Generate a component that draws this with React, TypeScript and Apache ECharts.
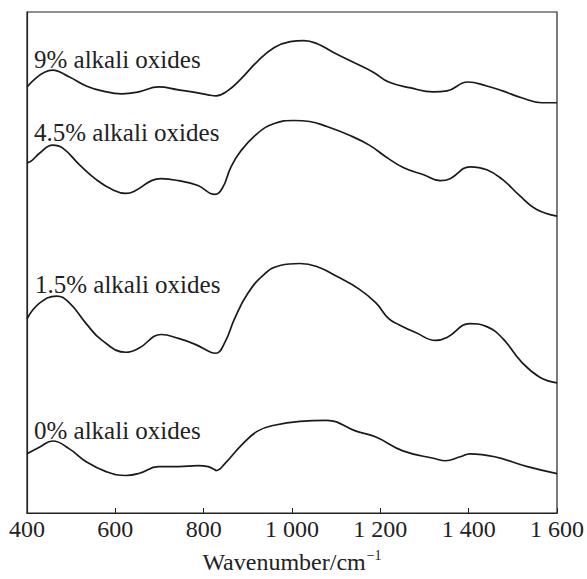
import React, { useEffect, useRef } from "react";
import * as echarts from "echarts";

// Wavenumber (cm^-1) and relative intensity (arbitrary offset units)
const wn9 = [400, 458, 496, 534, 570, 615, 653, 698, 743, 787, 810, 828, 854, 884, 922, 960, 996, 1027, 1056, 1094, 1139, 1184, 1219, 1269, 1320, 1351, 1398, 1441, 1477, 1520, 1566, 1600];
const val9 = [432, 449, 442, 433, 428, 425, 427, 432, 429, 426, 424, 423, 428, 440, 458, 472, 478, 479, 476, 467, 457, 447, 437, 431, 427, 428, 437, 433, 428, 421, 416, 416];

const wn45 = [400, 410, 429, 458, 481, 519, 557, 593, 624, 646, 682, 704, 743, 787, 825, 843, 861, 884, 922, 960, 1004, 1040, 1078, 1130, 1175, 1213, 1253, 1298, 1336, 1358, 1403, 1441, 1477, 1515, 1553, 1600];
const val45 = [355, 357, 365, 373, 370, 353, 338, 328, 324, 327, 337, 339, 337, 332, 323, 330, 350, 367, 385, 395, 398, 397, 392, 383, 373, 361, 350, 343, 337, 339, 351, 348, 338, 322, 308, 301];

const wn15 = [400, 429, 467, 496, 534, 570, 624, 653, 704, 743, 781, 816, 828, 848, 870, 899, 937, 973, 1018, 1056, 1101, 1152, 1190, 1219, 1242, 1280, 1325, 1351, 1403, 1441, 1477, 1520, 1560, 1600];
const val15 = [197, 213, 220, 213, 192, 175, 163, 167, 181, 177, 171, 163, 162, 173, 197, 222, 242, 251, 253, 250, 240, 227, 213, 197, 191, 183, 175, 178, 192, 189, 177, 153, 138, 132];

const wn0 = [400, 429, 458, 496, 534, 579, 624, 653, 698, 743, 787, 810, 825, 828, 848, 884, 922, 960, 1018, 1078, 1145, 1190, 1251, 1325, 1347, 1381, 1403, 1459, 1533, 1600];
const val0 = [60, 67, 73, 65, 52, 42, 38, 40, 47, 47, 48, 47, 44, 43, 50, 68, 83, 89, 93, 94, 83, 77, 63, 55, 53, 57, 60, 57, 47, 40];

const seriesNames = ["9% alkali oxides", "4.5% alkali oxides", "1.5% alkali oxides", "0% alkali oxides"];
const xTicks = [400, 600, 800, 1000, 1200, 1400, 1600];

const zip = (xs: number[], ys: number[]) => xs.map((x, i) => [x, ys[i]]);

export default function App() {
  const ref = useRef<HTMLDivElement>(null);
  useEffect(() => {
    if (!ref.current) return;
    const chart = echarts.init(ref.current, undefined, { renderer: "svg" });
    const font = "Liberation Serif";
    const lineColor = "#1a1a1a";
    const datasets = [zip(wn9, val9), zip(wn45, val45), zip(wn15, val15), zip(wn0, val0)];
    const labelPos = [
      { x: 34, y: 59 },
      { x: 34, y: 132 },
      { x: 35, y: 284 },
      { x: 34, y: 430 },
    ];
    chart.setOption({
      animation: false,
      backgroundColor: "#ffffff",
      grid: {
        left: 27,
        right: 24,
        top: 12,
        bottom: 59,
        show: true,
        borderColor: "#222",
        borderWidth: 1.2,
        backgroundColor: "transparent",
      },
      xAxis: {
        type: "value",
        min: 400,
        max: 1600,
        interval: 200,
        axisLine: { show: true, lineStyle: { color: "#222", width: 1.2 } },
        axisTick: { show: true, inside: true, length: 5, lineStyle: { color: "#222" } },
        splitLine: { show: false },
        axisLabel: {
          margin: 4,
          color: "#222",
          fontFamily: font,
          fontSize: 24,
          formatter: (v: number) => (xTicks.includes(v) ? (v >= 1000 ? String(v).replace(/^(\d)(\d{3})$/, "$1 $2") : String(v)) : ""),
        },
        name: "{a|Wavenumber/cm}{b|−1}",
        nameLocation: "middle",
        nameGap: 35,
        nameTextStyle: {
          rich: {
            a: { fontFamily: font, fontSize: 24, color: "#222" },
            b: { fontFamily: font, fontSize: 14, color: "#222", padding: [0, 0, 14, 1] },
          },
        },
      },
      yAxis: {
        type: "value",
        min: 0,
        max: 508,
        axisLine: { show: true, lineStyle: { color: "#222", width: 1.2 } },
        axisTick: { show: false },
        axisLabel: { show: false },
        splitLine: { show: false },
      },
      series: datasets.map((d, i) => ({
        name: seriesNames[i],
        type: "line",
        data: d,
        smooth: 0.45,
        showSymbol: false,
        lineStyle: { color: lineColor, width: 1.7 },
      })),
      graphic: seriesNames.map((n, i) => ({
        type: "text",
        x: labelPos[i].x,
        y: labelPos[i].y,
        style: {
          text: n,
          fontFamily: font,
          fontSize: 25,
          fill: "#222",
          verticalAlign: "middle",
          align: "left",
        },
      })),
    });
    return () => chart.dispose();
  }, []);
  return <div ref={ref} style={{ width: 587, height: 579, position: "absolute", left: 0, top: 0 }} />;
}
